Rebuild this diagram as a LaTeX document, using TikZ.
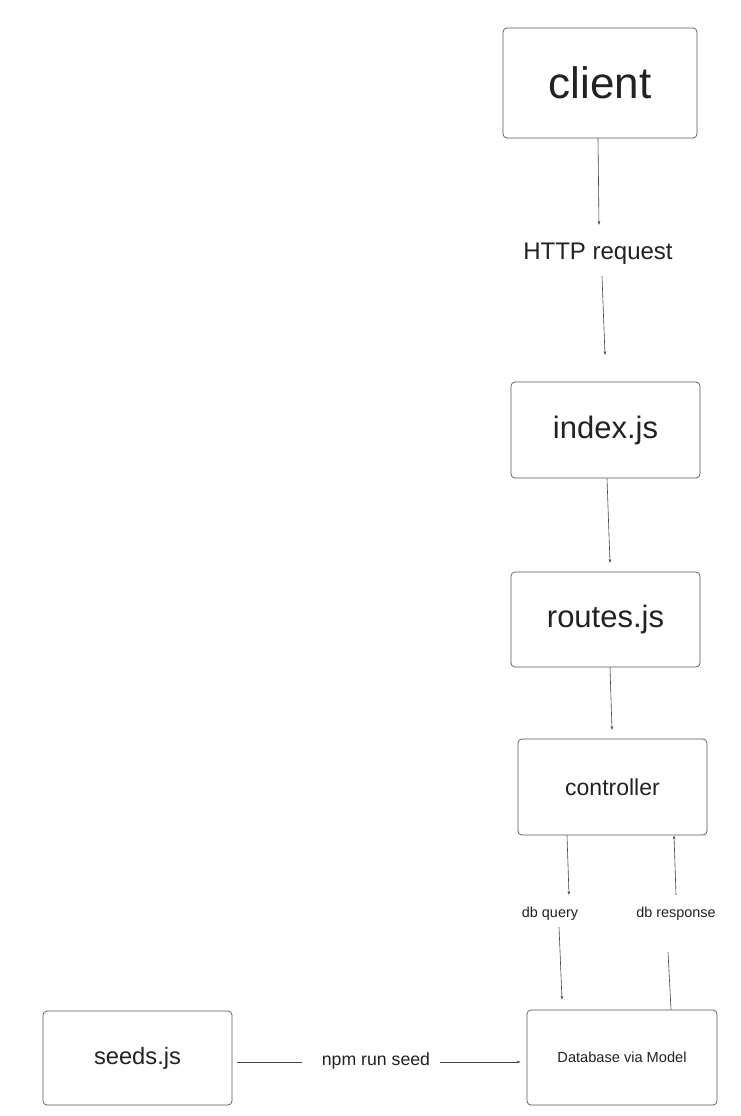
\documentclass[tikz,border=0pt]{standalone}
\usepackage{fontspec}
\setmainfont{Liberation Sans}
\usetikzlibrary{arrows.meta}
\definecolor{ink}{HTML}{222222}
\definecolor{edge}{HTML}{555555}
\begin{document}
\begin{tikzpicture}[x=1pt,y=-1pt,
  box/.style={draw=edge,line width=0.7pt,rounded corners=4pt,text=ink,inner sep=0pt},
  lbl/.style={text=ink,inner sep=1pt},
  conn/.style={draw=edge!80!black,line width=0.6pt},
  arr/.style={conn,-{Stealth[length=4pt,width=2.6pt]}}]
\useasboundingbox (0,0) rectangle (740,1116);
\fill[white] (0,0) rectangle (740,1116);
% boxes
\node[box,minimum width=194pt,minimum height=110pt,font=\fontsize{44}{48}\selectfont] (client) at (600,83) {client};
\node[box,minimum width=189pt,minimum height=96pt,font=\fontsize{31}{36}\selectfont] (index) at (605.5,430) {index.js};
\node[box,minimum width=189pt,minimum height=95pt,font=\fontsize{31}{36}\selectfont] (routes) at (605.5,619.5) {routes.js};
\node[box,minimum width=189pt,minimum height=96pt,font=\fontsize{23}{27}\selectfont] (ctrl) at (612.5,787) {controller};
\node[box,minimum width=190pt,minimum height=95pt,font=\fontsize{14.6}{18}\selectfont] (db) at (622,1057.5) {Database via Model};
\node[box,minimum width=189pt,minimum height=94pt,font=\fontsize{23.7}{28}\selectfont] (seeds) at (137.5,1058) {seeds.js};
% labels
\node[lbl,font=\fontsize{24}{28}\selectfont] (http) at (598,254) {HTTP request};
\node[lbl,font=\fontsize{14.4}{17}\selectfont] (dbq) at (550,914) {db query};
\node[lbl,font=\fontsize{14.4}{17}\selectfont] (dbr) at (676,914) {db response};
\node[lbl,font=\fontsize{17.7}{21}\selectfont] (npm) at (376,1061) {npm run seed};
% free ends
\coordinate (c1) at (599,225);
\coordinate (h1) at (602,276);
\coordinate (h2) at (605,355);
\coordinate (i1) at (610,563);
\coordinate (r1) at (612,730);
\coordinate (q1) at (569,895);
\coordinate (q2) at (559,927);
\coordinate (p1) at (676,895);
\coordinate (p2) at (668,952);
\coordinate (s1) at (302,1062);
\coordinate (s2) at (440,1062);
% connectors
\draw[arr] ([xshift=-2pt]client.south) -- (c1);
\draw[arr] (h1) -- (h2);
\draw[arr] ([xshift=1.5pt]index.south) -- (i1);
\draw[arr] ([xshift=4.5pt]routes.south) -- (r1);
\draw[arr] ([xshift=-45.5pt]ctrl.south) -- (q1);
\draw[arr] (p1) -- ([xshift=61.5pt]ctrl.south);
\draw[arr] (q2) -- ([xshift=-60pt,yshift=10pt]db.north);
\draw[conn] (p2) -- ([xshift=49pt]db.north);
\draw[conn] ([xshift=5pt,yshift=-4pt]seeds.east) -- (s1);
\draw[arr] (s2) -- ([xshift=-6pt,yshift=-4.5pt]db.west);
\end{tikzpicture}
\end{document}
